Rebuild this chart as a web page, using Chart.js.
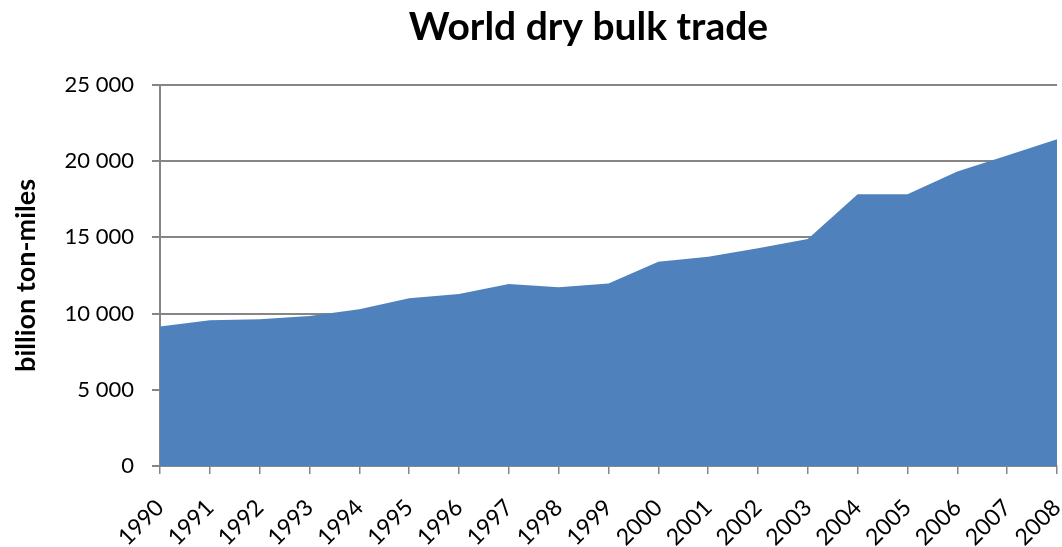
<!DOCTYPE html>
<html lang="en">
<head>
    <meta charset="UTF-8">
    <title>World dry bulk trade</title>
    <style>
        body {
            margin: 0;
            background-color: white;
        }
        #chart-container {
            width: 1062px;
            height: 547px;
        }
    </style>
    <script src="https://cdn.jsdelivr.net/npm/chart.js"></script>
</head>
<body>
    <div id="chart-container">
        <canvas id="tradeChart" width="1062" height="547"></canvas>
    </div>
    <script>
        const years = ['1990', '1991', '1992', '1993', '1994', '1995', '1996', '1997', '1998', '1999',
                       '2000', '2001', '2002', '2003', '2004', '2005', '2006', '2007', '2008'];
        // billion ton-miles
        const tonMiles = [9150, 9560, 9620, 9840, 10280, 11000, 11280, 11940, 11720, 11970,
                          13400, 13730, 14280, 14890, 17820, 17820, 19310, 20360, 21430];
        const yTicks = [0, 5000, 10000, 15000, 20000, 25000];

        const fontFamily = 'Lato, "Open Sans", sans-serif';
        const axisGrey = '#868686';

        function spaced(n) {
            return String(n).replace(/\B(?=(\d{3})+(?!\d))/g, ' ');
        }

        // nudge the title a little left of the plot-area centre
        const titleShift = {
            id: 'titleShift',
            afterLayout(chart) {
                if (chart.titleBlock) {
                    chart.titleBlock.left -= 40;
                }
            }
        };

        const ctx = document.getElementById('tradeChart').getContext('2d');
        new Chart(ctx, {
            type: 'line',
            data: {
                labels: years,
                datasets: [{
                    data: tonMiles,
                    fill: 'origin',
                    backgroundColor: '#4F81BD',
                    borderWidth: 0,
                    pointRadius: 0,
                    tension: 0
                }]
            },
            plugins: [titleShift],
            options: {
                responsive: false,
                animation: false,
                layout: {
                    padding: { left: 0, right: 5, top: 0, bottom: 0 }
                },
                scales: {
                    x: {
                        offset: false,
                        afterFit: scale => {
                            scale.height = 81;
                            scale.paddingLeft = 0;
                            scale.paddingRight = 0;
                        },
                        grid: {
                            drawOnChartArea: false,
                            drawTicks: true,
                            tickLength: 8,
                            color: axisGrey,
                            lineWidth: 1.5
                        },
                        border: { color: axisGrey, width: 2 },
                        ticks: {
                            color: '#000',
                            font: { family: fontFamily, size: 23 },
                            minRotation: 45,
                            maxRotation: 45,
                            autoSkip: false,
                            padding: 20
                        }
                    },
                    y: {
                        min: 0,
                        max: 25000,
                        afterFit: scale => { scale.width = 160; },
                        afterBuildTicks: axis => {
                            axis.ticks = yTicks.map(v => ({ value: v }));
                        },
                        grid: {
                            color: axisGrey,
                            lineWidth: 2,
                            tickLength: 8
                        },
                        border: { color: axisGrey, width: 2 },
                        ticks: {
                            color: '#000',
                            font: { family: fontFamily, size: 22 },
                            padding: 18,
                            callback: v => spaced(v)
                        },
                        title: {
                            display: true,
                            text: 'billion ton-miles',
                            color: '#000',
                            font: { family: fontFamily, size: 27, weight: 'bold' },
                            padding: { top: 10, bottom: 0 }
                        }
                    }
                },
                plugins: {
                    legend: { display: false },
                    tooltip: { enabled: false },
                    title: {
                        display: true,
                        fullSize: false,
                        text: 'World dry bulk trade',
                        color: '#000',
                        font: { family: fontFamily, size: 39, weight: 'bold' },
                        padding: { top: 4, bottom: 34 }
                    }
                }
            }
        });
    </script>
</body>
</html>
